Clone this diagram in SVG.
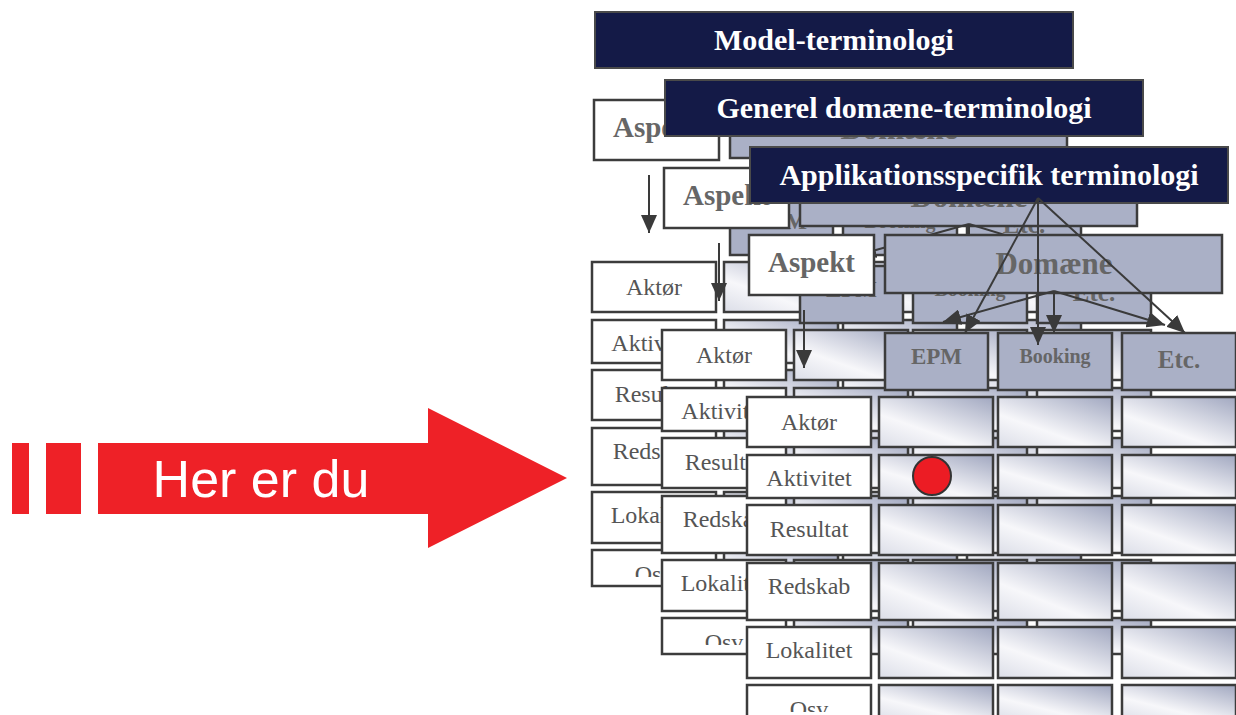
<svg xmlns="http://www.w3.org/2000/svg" width="1236" height="715" viewBox="0 0 1236 715">
<defs>
<style>
.hdr{fill:#141a47;stroke:#4a4a4a;stroke-width:2}
.hdrt{font-family:"Liberation Serif",serif;font-weight:bold;font-size:30px;fill:#ffffff;text-anchor:middle}
.wbox{fill:#ffffff;stroke:#3c3c3c;stroke-width:2.5}
.gbox{fill:#aab0c6;stroke:#3c3c3c;stroke-width:2.5}
.cell{fill:url(#cg);stroke:#3c3c3c;stroke-width:2.5}
.asp{font-family:"Liberation Serif",serif;font-weight:bold;font-size:29px;fill:#666666;text-anchor:middle}
.dom{font-family:"Liberation Serif",serif;font-weight:bold;font-size:31px;fill:#666666;text-anchor:middle}
.colt{font-family:"Liberation Serif",serif;font-weight:bold;fill:#666666;text-anchor:middle}
.rowt{font-family:"Liberation Serif",serif;font-size:24px;fill:#555555;text-anchor:middle}
.conn{stroke:#3a3a3a;stroke-width:2;fill:none;marker-end:url(#ah)}
.red{fill:#ee2127}
</style>
<linearGradient id="cg" x1="0.1" y1="1" x2="0.9" y2="0">
<stop offset="0" stop-color="#dfe1ea"/>
<stop offset="0.35" stop-color="#f7f7fa"/>
<stop offset="1" stop-color="#a7adc4"/>
</linearGradient>
<marker id="ah" markerUnits="userSpaceOnUse" markerWidth="18" markerHeight="16" refX="18" refY="8" orient="auto" viewBox="0 0 18 16">
<path d="M0,0 L18,8 L0,16 z" fill="#3a3a3a"/>
</marker>
<clipPath id="osvclip" clipPathUnits="userSpaceOnUse"><rect x="700" y="600" width="300" height="112"/></clipPath>
</defs>
<rect width="1236" height="715" fill="#ffffff"/>

<g id="here-arrow">
<rect class="red" x="12" y="443" width="17" height="71"/>
<rect class="red" x="46" y="443" width="35" height="71"/>
<polygon class="red" points="98,443 428,443 428,408 567,478 428,548 428,514 98,514"/>
<text x="261" y="497" font-family="Liberation Sans, Arial, sans-serif" font-size="52" fill="#ffffff" text-anchor="middle">Her er du</text>
</g>

<!-- LAYER 1 -->
<g id="layer1" transform="translate(-155,-135)">
<g id="l1-header"><rect class="hdr" x="750" y="147" width="478" height="56"/><text class="hdrt" x="989" y="185">Model-terminologi</text></g>
<g id="l1-aspekt"><rect class="wbox" x="749" y="235" width="125" height="60"/><text class="asp" x="811.5" y="272">Aspekt</text></g>
<g id="l1-domaene"><rect class="gbox" x="885" y="235" width="337" height="58"/><text class="dom" x="1054" y="274">Domæne</text></g>
<g id="l1-epm"><rect class="gbox" x="885" y="333" width="103" height="57"/><text class="colt" x="936.5" y="364" font-size="23">EPM</text></g>
<g id="l1-booking"><rect class="gbox" x="998" y="333" width="114" height="57"/><text class="colt" x="1055" y="363" font-size="20">Booking</text></g>
<g id="l1-etc"><rect class="gbox" x="1122" y="333" width="114" height="57"/><text class="colt" x="1179" y="368" font-size="25">Etc.</text></g>
<g id="l1-aktor"><rect class="wbox" x="747" y="397" width="124" height="50"/><text class="rowt" x="809" y="430">Aktør</text></g>
<g id="l1-aktivitet"><rect class="wbox" x="747" y="455" width="124" height="43"/><text class="rowt" x="809" y="486">Aktivitet</text></g>
<g id="l1-resultat"><rect class="wbox" x="747" y="505" width="124" height="50"/><text class="rowt" x="809" y="537">Resultat</text></g>
<g id="l1-redskab"><rect class="wbox" x="747" y="563" width="124" height="57"/><text class="rowt" x="809" y="594">Redskab</text></g>
<g id="l1-lokalitet"><rect class="wbox" x="747" y="627" width="124" height="51"/><text class="rowt" x="809" y="658">Lokalitet</text></g>
<g id="l1-osv"><rect class="wbox" x="747" y="685" width="124" height="36"/><text class="rowt" x="809" y="717" clip-path="url(#osvclip)">Osv</text></g>
<g id="l1-cells">
<rect class="cell" x="879" y="397" width="114" height="50"/><rect class="cell" x="998" y="397" width="114" height="50"/><rect class="cell" x="1122" y="397" width="114" height="50"/>
<rect class="cell" x="879" y="455" width="114" height="43"/><rect class="cell" x="998" y="455" width="114" height="43"/><rect class="cell" x="1122" y="455" width="114" height="43"/>
<rect class="cell" x="879" y="505" width="114" height="50"/><rect class="cell" x="998" y="505" width="114" height="50"/><rect class="cell" x="1122" y="505" width="114" height="50"/>
<rect class="cell" x="879" y="563" width="114" height="57"/><rect class="cell" x="998" y="563" width="114" height="57"/><rect class="cell" x="1122" y="563" width="114" height="57"/>
<rect class="cell" x="879" y="627" width="114" height="51"/><rect class="cell" x="998" y="627" width="114" height="51"/><rect class="cell" x="1122" y="627" width="114" height="51"/>
<rect class="cell" x="879" y="685" width="114" height="36"/><rect class="cell" x="998" y="685" width="114" height="36"/><rect class="cell" x="1122" y="685" width="114" height="36"/>
</g>
<g id="l1-connectors">
<line class="conn" x1="1054" y1="291" x2="943" y2="322"/>
<line class="conn" x1="1054" y1="291" x2="1054" y2="333"/>
<line class="conn" x1="1054" y1="291" x2="1165" y2="325"/>
<line class="conn" x1="804" y1="310" x2="804" y2="368"/>
</g>
</g>

<!-- LAYER 2 -->
<g id="layer2" transform="translate(-85,-67)">
<g id="l2-header"><rect class="hdr" x="750" y="147" width="478" height="56"/><text class="hdrt" x="989" y="185">Generel domæne-terminologi</text></g>
<g id="l2-aspekt"><rect class="wbox" x="749" y="235" width="125" height="60"/><text class="asp" x="811.5" y="272">Aspekt</text></g>
<g id="l2-domaene"><rect class="gbox" x="885" y="235" width="337" height="58"/><text class="dom" x="1054" y="274">Domæne</text></g>
<g id="l2-epm"><rect class="gbox" x="885" y="333" width="103" height="57"/><text class="colt" x="936.5" y="364" font-size="23">EPM</text></g>
<g id="l2-booking"><rect class="gbox" x="998" y="333" width="114" height="57"/><text class="colt" x="1055" y="363" font-size="20">Booking</text></g>
<g id="l2-etc"><rect class="gbox" x="1122" y="333" width="114" height="57"/><text class="colt" x="1179" y="368" font-size="25">Etc.</text></g>
<g id="l2-aktor"><rect class="wbox" x="747" y="397" width="124" height="50"/><text class="rowt" x="809" y="430">Aktør</text></g>
<g id="l2-aktivitet"><rect class="wbox" x="747" y="455" width="124" height="43"/><text class="rowt" x="809" y="486">Aktivitet</text></g>
<g id="l2-resultat"><rect class="wbox" x="747" y="505" width="124" height="50"/><text class="rowt" x="809" y="537">Resultat</text></g>
<g id="l2-redskab"><rect class="wbox" x="747" y="563" width="124" height="57"/><text class="rowt" x="809" y="594">Redskab</text></g>
<g id="l2-lokalitet"><rect class="wbox" x="747" y="627" width="124" height="51"/><text class="rowt" x="809" y="658">Lokalitet</text></g>
<g id="l2-osv"><rect class="wbox" x="747" y="685" width="124" height="36"/><text class="rowt" x="809" y="717" clip-path="url(#osvclip)">Osv</text></g>
<g id="l2-cells">
<rect class="cell" x="879" y="397" width="114" height="50"/><rect class="cell" x="998" y="397" width="114" height="50"/><rect class="cell" x="1122" y="397" width="114" height="50"/>
<rect class="cell" x="879" y="455" width="114" height="43"/><rect class="cell" x="998" y="455" width="114" height="43"/><rect class="cell" x="1122" y="455" width="114" height="43"/>
<rect class="cell" x="879" y="505" width="114" height="50"/><rect class="cell" x="998" y="505" width="114" height="50"/><rect class="cell" x="1122" y="505" width="114" height="50"/>
<rect class="cell" x="879" y="563" width="114" height="57"/><rect class="cell" x="998" y="563" width="114" height="57"/><rect class="cell" x="1122" y="563" width="114" height="57"/>
<rect class="cell" x="879" y="627" width="114" height="51"/><rect class="cell" x="998" y="627" width="114" height="51"/><rect class="cell" x="1122" y="627" width="114" height="51"/>
<rect class="cell" x="879" y="685" width="114" height="36"/><rect class="cell" x="998" y="685" width="114" height="36"/><rect class="cell" x="1122" y="685" width="114" height="36"/>
</g>
<g id="l2-connectors">
<line class="conn" x1="1054" y1="291" x2="943" y2="322"/>
<line class="conn" x1="1054" y1="291" x2="1054" y2="333"/>
<line class="conn" x1="1054" y1="291" x2="1165" y2="325"/>
<line class="conn" x1="804" y1="310" x2="804" y2="368"/>
</g>
</g>

<!-- LAYER 3 -->
<g id="layer3">
<g id="l3-header"><rect class="hdr" x="750" y="147" width="478" height="56"/><text class="hdrt" x="989" y="185">Applikationsspecifik terminologi</text></g>
<g id="l3-aspekt"><rect class="wbox" x="749" y="235" width="125" height="60"/><text class="asp" x="811.5" y="272">Aspekt</text></g>
<g id="l3-domaene"><rect class="gbox" x="885" y="235" width="337" height="58"/><text class="dom" x="1054" y="274">Domæne</text></g>
<g id="l3-epm"><rect class="gbox" x="885" y="333" width="103" height="57"/><text class="colt" x="936.5" y="364" font-size="23">EPM</text></g>
<g id="l3-booking"><rect class="gbox" x="998" y="333" width="114" height="57"/><text class="colt" x="1055" y="363" font-size="20">Booking</text></g>
<g id="l3-etc"><rect class="gbox" x="1122" y="333" width="114" height="57"/><text class="colt" x="1179" y="368" font-size="25">Etc.</text></g>
<g id="l3-aktor"><rect class="wbox" x="747" y="397" width="124" height="50"/><text class="rowt" x="809" y="430">Aktør</text></g>
<g id="l3-aktivitet"><rect class="wbox" x="747" y="455" width="124" height="43"/><text class="rowt" x="809" y="486">Aktivitet</text></g>
<g id="l3-resultat"><rect class="wbox" x="747" y="505" width="124" height="50"/><text class="rowt" x="809" y="537">Resultat</text></g>
<g id="l3-redskab"><rect class="wbox" x="747" y="563" width="124" height="57"/><text class="rowt" x="809" y="594">Redskab</text></g>
<g id="l3-lokalitet"><rect class="wbox" x="747" y="627" width="124" height="51"/><text class="rowt" x="809" y="658">Lokalitet</text></g>
<g id="l3-osv"><rect class="wbox" x="747" y="685" width="124" height="36"/><text class="rowt" x="809" y="717" clip-path="url(#osvclip)">Osv</text></g>
<g id="l3-cells">
<rect class="cell" x="879" y="397" width="114" height="50"/><rect class="cell" x="998" y="397" width="114" height="50"/><rect class="cell" x="1122" y="397" width="114" height="50"/>
<rect class="cell" x="879" y="455" width="114" height="43"/><rect class="cell" x="998" y="455" width="114" height="43"/><rect class="cell" x="1122" y="455" width="114" height="43"/>
<rect class="cell" x="879" y="505" width="114" height="50"/><rect class="cell" x="998" y="505" width="114" height="50"/><rect class="cell" x="1122" y="505" width="114" height="50"/>
<rect class="cell" x="879" y="563" width="114" height="57"/><rect class="cell" x="998" y="563" width="114" height="57"/><rect class="cell" x="1122" y="563" width="114" height="57"/>
<rect class="cell" x="879" y="627" width="114" height="51"/><rect class="cell" x="998" y="627" width="114" height="51"/><rect class="cell" x="1122" y="627" width="114" height="51"/>
<rect class="cell" x="879" y="685" width="114" height="36"/><rect class="cell" x="998" y="685" width="114" height="36"/><rect class="cell" x="1122" y="685" width="114" height="36"/>
</g>
<g id="l3-marker"><circle cx="932" cy="476" r="19" fill="#ec1c24" stroke="#333333" stroke-width="2"/></g>
<g id="l3-connectors">
<line class="conn" x1="1054" y1="291" x2="943" y2="322"/>
<line class="conn" x1="1054" y1="291" x2="1054" y2="333"/>
<line class="conn" x1="1054" y1="291" x2="1165" y2="325"/>
<line class="conn" x1="1038" y1="198" x2="965" y2="333"/>
<line class="conn" x1="1038" y1="198" x2="1038" y2="345"/>
<line class="conn" x1="1038" y1="198" x2="1185" y2="333"/>
<line class="conn" x1="804" y1="310" x2="804" y2="368"/>
</g>
</g>
</svg>
